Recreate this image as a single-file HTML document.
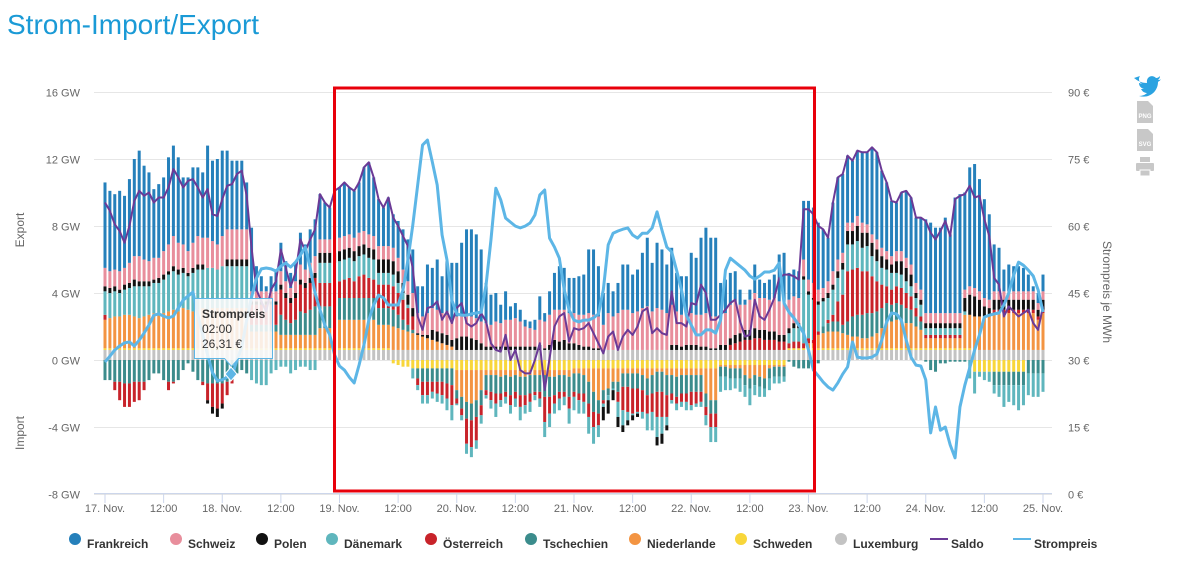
<!DOCTYPE html>
<html><head><meta charset="utf-8">
<style>
body{margin:0;background:#fff;width:1180px;height:556px;overflow:hidden;font-family:"Liberation Sans",Arial,sans-serif;}
#wrap{position:relative;width:1180px;height:556px;}
svg text{font-family:"Liberation Sans",Arial,sans-serif;}
</style></head>
<body>
<div id="wrap">
<svg id="chart" width="1180" height="556" xmlns="http://www.w3.org/2000/svg">
  <text x="7" y="34" font-size="28" fill="#1a9ad6" font-weight="normal">Strom-Import/Export</text>
  <g id="grid"></g>
  <g id="bars"></g>
  <g id="lines"></g>
  <g id="axes"></g>
  <text transform="translate(24,230) rotate(-90)" text-anchor="middle" font-size="12" fill="#666">Export</text>
  <text transform="translate(24,433) rotate(-90)" text-anchor="middle" font-size="12" fill="#666">Import</text>
  <text transform="translate(1103,292) rotate(90)" text-anchor="middle" font-size="12" fill="#666">Strompreis je MWh</text>
  <rect x="334.5" y="88" width="480" height="403" fill="none" stroke="#e8000b" stroke-width="3"/>
  <g>
    <path d="M194.5,298.5 h78 v60 h-34 l-7,8 l-7,-8 h-30 z" fill="rgba(250,250,250,0.88)" stroke="#5db6e6" stroke-width="1"/>
    <text x="202" y="318" font-size="12" font-weight="bold" fill="#333">Strompreis</text>
    <text x="202" y="333" font-size="12" fill="#333">02:00</text>
    <text x="202" y="348" font-size="12" fill="#333">26,31 €</text>
    <path d="M231,367 l6,7 l-6,7 l-6,-7 z" fill="#5db6e6" stroke="#fff" stroke-width="1"/>
  </g>
  <g>
    <path d="M1134,78 c5,4 9,5 13,5 c-1,-6 5,-9 9,-5 c2,0 3,-1 4,-2 c0,2 -1,3 -2,4 c1,0 2,0 3,-1 c-1,2 -2,2 -3,3 c0,9 -8,17 -19,14 c3,0 6,-1 8,-3 c-3,0 -5,-2 -6,-4 c1,0 2,0 3,0 c-3,-1 -5,-3 -5,-6 c1,0 2,1 3,1 c-3,-2 -4,-5 -2,-8 z" fill="#2ba3e1"/>
    <path d="M1137,101 h11 l5,5 v17 h-16 z" fill="#c8c8c8"/>
    <text x="1145" y="118" font-size="6" fill="#fff" text-anchor="middle" font-weight="bold">PNG</text>
    <path d="M1137,129 h11 l5,5 v17 h-16 z" fill="#c8c8c8"/>
    <text x="1145" y="146" font-size="6" fill="#fff" text-anchor="middle" font-weight="bold">SVG</text>
    <g fill="#c8c8c8">
      <rect x="1140" y="157" width="10" height="5"/><rect x="1136" y="163" width="18" height="8" rx="1"/><rect x="1140" y="170" width="10" height="6" fill="#c8c8c8" stroke="#fff" stroke-width="1"/>
    </g>
  </g>
  <g id="legend"></g>
</svg>
</div>
<script>
const xTickLabels=["17. Nov.","12:00","18. Nov.","12:00","19. Nov.","12:00","20. Nov.","12:00","21. Nov.","12:00","22. Nov.","12:00","23. Nov.","12:00","24. Nov.","12:00","25. Nov."];
const gwTicks=[16,12,8,4,0,-4,-8];
const priceTicks=[90,75,60,45,30,15,0];

const frankreich=[5.1,4.8,4.5,4.8,4.3,5.0,5.8,6.3,5.6,5.3,4.1,4.4,4.4,5.2,5.4,5.1,4.0,4.4,4.5,4.1,3.9,5.5,4.8,5.1,
5.1,4.7,4.1,4.1,4.1,2.8,3.8,1.5,0.9,0.3,0.9,1.2,1.7,1.2,0.9,1.1,1.9,1.5,2.0,2.2,2.7,2.2,1.9,2.9,
3.0,3.2,2.8,2.8,3.0,3.8,4.3,3.5,2.8,2.3,2.9,2.0,2.2,2.4,2.5,2.6,1.6,1.8,2.9,2.4,3.0,2.2,3.2,3.4,
3.2,4.3,5.1,5.2,5.0,4.3,2.4,1.8,1.7,1.1,1.7,0.8,0.9,0.7,0.4,0.4,0.6,1.4,0.5,1.4,2.2,2.6,2.5,2.1,
2.1,2.3,2.4,3.8,3.9,3.0,1.9,1.8,1.5,1.8,2.7,2.7,2.3,2.5,3.3,4.1,2.9,3.9,3.6,2.9,3.4,2.3,2.3,2.2,
3.6,3.4,4.6,5.1,4.7,4.7,1.9,2.0,1.9,1.8,0.9,0.3,0.6,1.7,1.1,0.9,1.2,1.4,2.8,3.0,1.6,1.6,1.6,3.5,
4.7,4.5,4.0,3.5,2.6,4.1,4.9,4.7,4.0,3.7,3.9,4.2,4.3,5.2,5.2,4.6,4.1,3.3,2.9,3.5,4.0,4.0,3.9,4.3,
5.6,5.4,5.1,5.1,5.7,4.7,6.9,7.1,5.8,7.1,7.4,6.7,5.9,5.1,2.8,2.6,1.3,1.6,1.5,1.5,1.4,1.0,0.3,0.6,1.0];
const schweiz=[1.1,1.0,1.0,1.1,1.0,1.2,1.4,1.5,1.3,1.2,1.3,1.2,1.4,1.6,1.8,1.6,1.4,1.3,1.5,1.7,1.6,1.8,1.6,1.5,
1.8,1.8,1.8,1.8,1.8,1.8,0.6,0.6,0.6,0.6,0.6,0.6,0.8,0.7,0.6,0.7,0.9,0.8,0.9,1.0,0.8,0.8,0.8,0.8,
0.8,0.8,0.8,0.8,0.8,0.8,0.8,0.8,0.8,0.8,0.8,0.8,0.8,0.8,0.8,0.9,1.2,1.1,1.3,1.3,1.3,1.2,1.2,1.2,
1.3,1.3,1.3,1.3,1.3,1.3,1.4,1.3,1.5,1.4,1.6,1.6,1.7,1.5,1.2,1.1,1.0,1.5,1.6,1.8,1.8,1.9,1.8,1.8,
1.8,1.8,1.9,2.0,2.0,1.9,1.5,2.2,2.0,2.2,2.4,2.4,2.2,2.3,2.5,2.6,2.3,2.5,2.4,2.2,2.4,2.0,1.9,1.9,
1.9,1.8,1.9,2.0,1.9,1.9,1.8,1.9,2.0,2.0,1.7,1.5,1.8,2.1,1.9,1.9,1.9,2.0,2.0,1.9,1.7,1.6,1.5,1.0,
0.7,0.9,0.7,0.6,0.7,0.8,0.7,0.6,0.5,0.5,0.6,0.6,0.5,0.5,0.6,0.5,0.5,0.5,0.6,0.6,0.6,0.6,0.6,0.6,
0.6,0.6,0.6,0.6,0.6,0.6,0.6,0.6,0.5,0.5,0.5,0.5,0.5,0.5,0.5,0.5,0.5,0.5,0.5,0.5,0.5,0.5,0.5,0.4,0.5];
const polen=[0.3,0.3,0.3,0.2,0.3,0.3,0.4,0.3,0.3,0.3,0.2,0.3,0.3,0.2,0.3,0.3,0.3,0.2,0.3,0.3,0.3,-0.2,-0.4,-0.5,
-0.3,0.4,0.4,0.4,0.4,0.4,0.2,0.2,0.2,0.2,0.2,0.2,0.3,0.3,0.3,0.3,0.3,0.3,0.3,0.3,0.6,0.6,0.6,0.6,
0.6,0.6,0.6,0.6,0.6,0.6,0.6,0.6,0.8,0.8,0.8,0.8,0.7,0.6,0.6,0.5,0.1,0.1,0.2,0.6,0.6,0.6,0.6,0.4,
0.7,0.8,0.8,0.7,0.6,0.4,0.2,0.2,0.2,0.2,0.2,0.2,0.2,0.2,0.2,0.2,0.2,0.3,0.1,0.3,0.6,0.5,0.6,0.4,
0.4,0.3,0.2,0.2,0.1,0.1,-0.8,-0.8,-0.6,-0.6,-0.4,-0.3,-0.3,-0.2,0,0,0,-0.5,-0.6,-0.3,0.3,0.3,0.2,0.3,
0.3,0.3,0.2,0.2,0.1,0.1,0.3,0.3,0.4,0.5,0.5,0.6,0.6,0.6,0.5,0.6,0.5,0.5,0.4,0.4,0.3,0.3,0.3,0.2,
0.2,0.1,0.2,0.2,0.3,0.3,0.4,0.4,0.8,0.8,0.9,0.9,0.8,0.8,0.7,0.7,0.6,0.5,0.7,0.8,0.8,0.7,0.3,0.3,
0.3,0.3,0.3,0.3,0.3,0.3,0.3,0.3,0.8,1.2,1.2,1.0,0.6,0.5,0.6,0.6,0.6,0.6,0.6,0.6,0.6,0.6,0.6,0.4,0.6];
const daenemark=[1.4,1.5,1.5,1.4,1.5,1.6,1.8,1.9,1.8,1.7,1.8,1.9,2.0,2.2,2.3,2.2,2.1,2.0,2.3,2.4,2.3,2.5,2.4,2.3,
2.5,2.5,2.5,2.5,2.5,2.5,-1.2,-1.4,-1.5,-1.5,-0.8,-0.6,-0.4,-0.4,-0.8,-0.6,-0.4,-0.4,-0.6,-0.6,1.2,1.2,1.2,1.2,
1.2,1.2,1.2,1.2,1.2,1.2,1.2,1.2,0.7,0.7,0.7,0.7,0.6,0.4,0.2,-0.6,-0.3,-0.5,-0.5,-0.4,-0.5,-0.5,-0.7,-0.9,
-0.1,-0.3,-0.6,-0.6,-0.5,-0.5,-0.2,-0.5,-0.8,-0.4,-0.4,-0.5,-0.5,-0.8,-0.5,-0.6,-0.3,-0.5,-0.9,-0.8,-0.6,-0.7,-0.5,-0.9,
-0.8,-0.8,-0.7,-1.0,-1.0,-0.7,-0.2,-0.3,-0.1,-0.9,-0.9,-0.5,-0.1,-0.1,-0.4,-1.0,-1.1,-1.2,-1.0,-0.5,-0.2,-0.4,-0.3,-0.5,
-0.3,-0.2,-0.3,-0.6,-0.9,-0.9,-0.9,-0.8,-0.7,-0.6,-0.8,-0.7,-1.0,-0.6,-0.6,-0.5,-0.7,-0.4,-0.4,-0.3,0.6,0.8,0.8,3.8,
2.6,2.4,1.6,1.5,1.3,1.5,1.4,1.5,1.6,1.5,1.6,1.4,1.5,1.2,1.2,1.0,1.0,1.0,0.8,0.8,0.7,0.6,0.6,0.7,
0.4,0.4,0.4,0.4,0.4,0.4,0.4,0.4,0.2,-1.1,-1.3,-0.3,-0.5,-0.6,-0.5,-0.7,-1.3,-1.0,-1.2,-1.5,-1.2,-1.3,-1.4,-1.4,-1.1];
const oesterreich=[0.3,0,-0.5,-1.1,-1.4,-1.4,-1.2,-1.1,-0.5,0,0,0,0,-0.5,-0.1,0,0,0,0,0,-0.2,-1.0,-1.4,-1.5,
-1.2,-0.8,-0.2,0,0,0,1.2,1.2,1.2,1.2,1.2,1.2,1.5,1.3,1.2,1.3,1.6,1.5,1.6,1.7,1.4,1.4,1.4,1.4,
1.0,1.1,1.2,1.0,1.3,1.4,1.2,1.1,1.4,1.4,1.4,1.4,1.3,1.2,1.0,0.8,-0.4,-0.8,-0.8,-0.6,-0.7,-0.8,-0.9,-1.2,
-0.3,-0.4,-1.5,-1.6,-1.4,-0.6,-0.3,-0.5,-0.6,-0.4,-0.3,-0.6,-0.4,-0.7,-0.6,-0.5,-0.2,-0.4,-1.5,-1.0,-0.5,-0.4,-0.3,-0.7,
-0.3,-0.4,-0.5,-0.8,-0.9,-0.7,-0.2,0,0,-0.6,-1.4,-1.5,-1.5,-1.4,-1.3,-1.1,-1.1,-1.5,-1.5,-1.3,-0.4,-0.4,-0.5,-0.5,
-0.8,-0.7,-0.6,-0.5,-0.8,-0.8,0,0,0.3,0.4,0.5,0.6,0.6,0.7,0.7,0.6,0.6,0.6,0.5,0.5,0.3,0.4,0.4,0.3,
0.3,0.2,0.2,0,0.2,0.4,1.2,1.8,3.0,2.8,2.8,2.6,2.5,2.2,1.8,1.4,1.0,0.9,1.0,1.0,0.9,0.8,0.5,0.3,
0.2,0.2,0.2,0.2,0.2,0.2,0.2,0.2,0,0,0,0,0,0,0.2,0.2,0.2,0.2,0.2,0.2,0.2,0.2,0.2,0.2,0.2];
const tschechien=[-1.2,-1.2,-1.3,-1.3,-1.4,-1.4,-1.3,-1.3,-1.3,-1.2,-0.8,-0.8,-1.2,-1.3,-1.3,-1.2,-0.6,-0.2,-0.7,-1.2,-1.3,-1.4,-1.4,-1.4,
-1.4,-1.3,-1.2,-0.8,-0.6,-0.8,0.4,0.4,0.4,0.4,0.4,0.4,1.2,0.9,0.7,0.9,1.4,1.3,1.5,1.7,1.3,1.3,1.3,1.3,
1.3,1.3,1.3,1.3,1.3,1.3,1.3,1.3,1.0,1.0,1.0,1.0,0.8,0.6,0.4,0.2,-0.6,-0.8,-0.8,-0.8,-0.8,-0.8,-0.9,-1.0,
-0.5,-0.7,-1.0,-1.0,-1.0,-0.9,-0.9,-1.0,-1.1,-1.0,-1.0,-1.1,-1.0,-1.1,-1.1,-1.1,-1.0,-1.0,-1.3,-1.2,-1.1,-1.0,-1.0,-1.2,
-1.1,-1.2,-1.1,-1.3,-1.2,-0.8,-0.6,-0.4,-0.4,-0.6,-0.8,-0.8,-0.9,-0.9,-0.9,-1.0,-1.1,-1.2,-1.2,-1.2,-1.1,-1.2,-1.1,-1.1,
-1.0,-1.0,-1.0,-0.8,-0.8,-0.8,-0.6,-0.6,-0.6,-0.6,-0.6,-0.6,-0.6,-0.6,-0.6,-0.6,-0.6,-0.6,-0.6,-0.6,-0.1,-0.4,-0.5,-0.5,
-0.5,-0.4,-0.2,0.4,0.5,0.6,0.6,0.5,0.8,1.2,1.3,1.4,1.5,1.4,1.3,1.2,1.2,1.0,1.0,1.0,0.9,0.8,0.6,0.5,
-0.1,-0.6,-0.7,-0.2,-0.2,-0.1,-0.1,-0.1,-0.1,0,0,0,0,0,-0.8,-0.8,-0.8,-0.8,-0.8,-0.8,-0.8,-0.8,-0.8,-0.8,-0.8];
const niederlande=[1.7,1.8,1.9,1.9,2.0,2.0,1.9,1.8,1.9,2.0,2.1,2.0,2.1,2.2,2.3,2.2,2.4,2.3,2.2,2.3,2.4,2.3,2.4,2.4,
2.4,2.4,2.4,2.4,2.4,2.4,1.0,1.0,1.0,1.0,1.0,1.0,0.8,0.8,0.8,0.8,0.8,0.8,0.8,0.8,1.2,1.2,1.2,1.2,
1.7,1.7,1.7,1.7,1.7,1.7,1.7,1.7,1.4,1.4,1.4,1.4,1.3,1.2,1.1,1.0,0.9,0.8,0.7,0.6,0.5,0.4,0.3,0.2,
-1.2,-1.6,-1.9,-2.0,-1.8,-1.2,-0.3,-0.3,-0.3,-0.4,-0.3,-0.4,-0.3,-0.4,-0.4,-0.3,-0.3,-0.3,-0.3,-0.4,-0.4,-0.3,-0.3,-0.4,
-0.3,-0.3,-0.4,-0.8,-1.4,-1.9,-1.3,-1.2,-0.8,-0.8,-0.3,-0.3,-0.3,-0.3,-0.4,-0.6,-0.4,-0.2,-0.2,-0.4,-0.4,-0.5,-0.4,-0.4,
-0.4,-0.4,-0.4,-1.5,-1.9,-1.9,-0.1,-0.1,-0.2,-0.2,-0.2,-0.6,-0.8,-0.6,-0.7,-0.8,-0.2,-0.1,-0.1,-0.1,0,0,0,0,
0.3,0.3,0.8,0.9,1.0,1.0,1.0,0.9,0.8,0.7,0.7,0.6,0.6,0.7,0.9,1.2,1.5,1.6,1.7,1.6,1.5,1.5,1.3,1.1,
0.6,0.6,0.6,0.6,0.6,0.6,0.6,0.6,2.0,2.0,2.0,2.0,2.0,2.0,2.2,2.2,2.2,2.2,2.2,2.2,2.2,2.2,2.2,1.8,2.2];
const schweden=[0.1,0.1,0.1,0.1,0.1,0.1,0.1,0.1,0.1,0.1,0.1,0.1,0.1,0.1,0.1,0.1,0.1,0.1,0.1,0.1,0.1,0.1,0.1,0.1,
0.1,0.1,0.1,0.1,0.1,0.1,0.1,0.1,0.1,0.1,0.1,0.1,0.1,0.1,0.1,0.1,0.1,0.1,0.1,0.1,0.1,0.1,0.1,0.1,
0.1,0.1,0.1,0.1,0.1,0.1,0.1,0.1,0.1,0.1,0.1,-0.2,-0.3,-0.4,-0.4,-0.5,-0.5,-0.5,-0.5,-0.5,-0.5,-0.5,-0.5,-0.5,
-0.6,-0.6,-0.6,-0.6,-0.6,-0.6,-0.6,-0.6,-0.6,-0.6,-0.6,-0.6,-0.6,-0.6,-0.6,-0.6,-0.6,-0.6,-0.6,-0.6,-0.6,-0.6,-0.6,-0.6,
-0.5,-0.5,-0.5,-0.5,-0.5,-0.5,-0.5,-0.5,-0.5,-0.5,-0.5,-0.5,-0.5,-0.5,-0.5,-0.5,-0.5,-0.5,-0.5,-0.5,-0.5,-0.5,-0.5,-0.5,
-0.5,-0.5,-0.5,-0.5,-0.5,-0.5,-0.3,-0.3,-0.3,-0.3,-0.3,-0.3,-0.3,-0.3,-0.3,-0.3,-0.3,-0.3,-0.3,-0.3,0.1,0.1,0.1,0.1,
0.1,0.1,0.1,0.1,0.1,0.1,0.1,0.1,0.1,0.1,0.1,0.1,0.1,0.1,0.1,0.1,0.1,0.1,0.1,0.1,
0.1,0.1,0.1,0.1,0.1,0.1,0.1,0.1,0.1,0.1,0.1,0.1,0.1,0.1,-0.7,-0.7,-0.7,-0.7,-0.7,-0.7,-0.7,-0.7,-0.7,-0.7,-0.7];
const luxemburg=[0.6,0.6,0.6,0.6,0.6,0.6,0.6,0.6,0.6,0.6,0.6,0.6,0.6,0.6,0.6,0.6,0.6,0.6,0.6,0.6,0.6,0.6,0.6,0.6,
0.6,0.6,0.6,0.6,0.6,0.6,0.6,0.6,0.6,0.6,0.6,0.6,0.6,0.6,0.6,0.6,0.6,0.6,0.6,0.6,0.6,0.6,0.6,0.6,
0.6,0.6,0.6,0.6,0.6,0.6,0.6,0.6,0.6,0.6,0.6,0.6,0.6,0.6,0.6,0.6,0.6,0.6,0.6,0.6,0.6,0.6,0.6,0.6,
0.6,0.6,0.6,0.6,0.6,0.6,0.6,0.6,0.6,0.6,0.6,0.6,0.6,0.6,0.6,0.6,0.6,0.6,0.6,0.6,0.6,0.6,0.6,0.6,
0.6,0.6,0.6,0.6,0.6,0.6,0.6,0.6,0.6,0.6,0.6,0.6,0.6,0.6,0.6,0.6,0.6,0.6,0.6,0.6,0.6,0.6,0.6,0.6,
0.6,0.6,0.6,0.6,0.6,0.6,0.6,0.6,0.6,0.6,0.6,0.6,0.6,0.6,0.6,0.6,0.6,0.6,0.6,0.6,0.6,0.6,0.6,0.6,
0.6,0.6,0.6,0.6,0.6,0.6,0.6,0.6,0.6,0.6,0.6,0.6,0.6,0.6,0.6,0.6,0.6,0.6,0.6,0.6,0.6,0.6,0.6,0.6,
0.6,0.6,0.6,0.6,0.6,0.6,0.6,0.6,0.6,0.6,0.6,0.6,0.6,0.6,0.6,0.6,0.6,0.6,0.6,0.6,0.6,0.6,0.6,0.6,0.6];
const strompreis=[29.4,30.7,32.1,33.0,33.7,33.9,33.0,34.3,35.9,37.7,39.9,40.2,39.7,39.3,39.7,41.5,43.3,44.2,45.1,40,35.5,31,27,25.2,
25.4,26.0,26.3,29.8,32.8,38.8,44,48.2,50.3,50.5,50.3,49.8,50.9,51.6,50.7,51.8,53.4,55.2,50.5,44.9,41.1,37.7,35.5,31,
28.5,27.6,26,24.7,28.7,33.2,38.8,42.2,44.4,43.8,42.2,42.2,42.2,45.6,52.3,60.1,69.1,78.1,79.2,74.3,69.1,57.9,52.3,43.3,
40.2,39.9,39.9,40.2,40.4,40.6,46.7,56.8,68.4,65.8,61.7,60.8,59.9,59.5,59.9,60.6,62.4,66.9,68,57.2,55.2,52.7,45.6,41.1,
38.8,38.4,38.8,38.8,39.3,40.2,45.6,55.7,58.3,58.8,59.2,59.5,57.9,57.2,58.3,58.3,59.5,63.1,59,55.2,54.1,50,45.6,39.9,
37.7,35.5,35.5,36.6,36.6,35.9,38.8,50,52.7,51.8,50.9,50,48.7,48,48.7,49.6,49.6,50,51.6,42.6,40.6,39.3,37.7,35.9,
32.1,27.6,26.3,24.9,23.8,23.1,24.7,26.7,28.3,33.9,30.5,30.3,30.3,30.5,31.2,34.3,38.4,40.4,40.2,38.8,34.3,30.5,28.7,28.5,
25.4,13.5,19.3,14.1,14.8,10.8,7.9,19.3,24.2,28.1,32.1,35.5,39.5,39.9,40.2,40.4,42.2,44.9,48.9,51.8,51.1,50,48.7,45.6,40.6];

const NS='http://www.w3.org/2000/svg';
const PX0=94, PX1=1052, XS=105, XE=1043, NB=frankreich.length;
const xScale=i=>XS+i*(XE-XS)/192;
const yGW=v=>360-v*(268/16);
const yPrice=p=>493-p*(401/90);
function mk(tag,attrs,parent){const e=document.createElementNS(NS,tag);for(const k in attrs)e.setAttribute(k,attrs[k]);parent.appendChild(e);return e;}

const grid=document.getElementById('grid'), axes=document.getElementById('axes');
gwTicks.forEach((t,k)=>{
  const y=Math.round(yGW(t))+0.5;
  const l=mk('line',{x1:PX0,x2:PX1,y1:y,y2:y,stroke:'#e6e6e6','stroke-width':1},grid);
  
  
  const tx=mk('text',{x:80,y:y+4,'text-anchor':'end','font-size':11,fill:'#666'},axes);
  tx.textContent=t+' GW';
  
  
  const tp=mk('text',{x:1068,y:y+4,'font-size':11,fill:'#666'},axes);
  tp.textContent=priceTicks[k]+' €';
  
  
});
const ax=mk('line',{x1:PX0,x2:PX1,y1:493.5,y2:493.5,stroke:'#ccd6eb','stroke-width':1},axes);


xTickLabels.forEach((lab,k)=>{
  const x=xScale(k*12);
  const tk=mk('line',{x1:x,x2:x,y1:493,y2:503,stroke:'#ccd6eb'},axes);
  
  
  const t=mk('text',{x:x,y:512,'text-anchor':'middle','font-size':11,fill:'#666'},axes);
  t.textContent=lab;
  
  
});

const stack=[
 ['luxemburg',luxemburg,'#c3c3c3'],['schweden',schweden,'#f8d63a'],['niederlande',niederlande,'#f39442'],
 ['tschechien',tschechien,'#3b8c8c'],['oesterreich',oesterreich,'#c8232a'],['daenemark',daenemark,'#5fb6bd'],
 ['polen',polen,'#111'],['schweiz',schweiz,'#e88e9c'],['frankreich',frankreich,'#2580bb']];
const bars=document.getElementById('bars');
for(let i=0;i<NB;i++){
  let pos=0,neg=0;const x=xScale(i)-1.5;
  stack.forEach(([name,arr,col])=>{
    const v=arr[i]||0; if(v===0)return;
    let y0,y1;
    if(v>0){y0=yGW(pos+v);y1=yGW(pos);pos+=v;}else{y0=yGW(neg);y1=yGW(neg+v);neg+=v;}
    const r=mk('rect',{x:x.toFixed(2),y:y0.toFixed(2),width:3,height:Math.max(0,y1-y0).toFixed(2),fill:col},bars);
    
    
  });
}
const lines=document.getElementById('lines');
let dS='',dP='';
for(let i=0;i<NB;i++){
  let s=0;stack.forEach(([n,arr])=>{s+=arr[i]||0;});
  dS+=(i?'L':'M')+xScale(i).toFixed(2)+','+yGW(s).toFixed(2);
}
for(let i=0;i<strompreis.length;i++){dP+=(i?'L':'M')+xScale(i).toFixed(2)+','+yPrice(strompreis[i]).toFixed(2);}
const ls=mk('path',{d:dS,fill:'none',stroke:'#6b3a96','stroke-width':2,'stroke-linejoin':'round'},lines);


const lp=mk('path',{d:dP,fill:'none',stroke:'#5db6e6','stroke-width':3,'stroke-linejoin':'round'},lines);



const legendItems=[['Frankreich','#2580bb',75,'dot'],['Schweiz','#e88e9c',176,'dot'],['Polen','#111',262,'dot'],['Dänemark','#5fb6bd',332,'dot'],['Österreich','#c8232a',431,'dot'],['Tschechien','#3b8c8c',531,'dot'],['Niederlande','#f39442',635,'dot'],['Schweden','#f8d63a',741,'dot'],['Luxemburg','#c3c3c3',841,'dot'],['Saldo','#6b3a96',939,'line'],['Strompreis','#5db6e6',1022,'line']];
const legend=document.getElementById('legend');
legendItems.forEach(([lab,col,cx,type])=>{
  const g=mk('g',{},legend);
  
  
  if(type==='dot')mk('circle',{cx:cx,cy:539,r:6,fill:col},g);
  else mk('line',{x1:cx-9,x2:cx+9,y1:539,y2:539,stroke:col,'stroke-width':2},g);
  const t=mk('text',{x:cx+12,y:548,'font-size':12,'font-weight':'bold',fill:'#333'},g);
  t.textContent=lab;
});
</script>
</body></html>
